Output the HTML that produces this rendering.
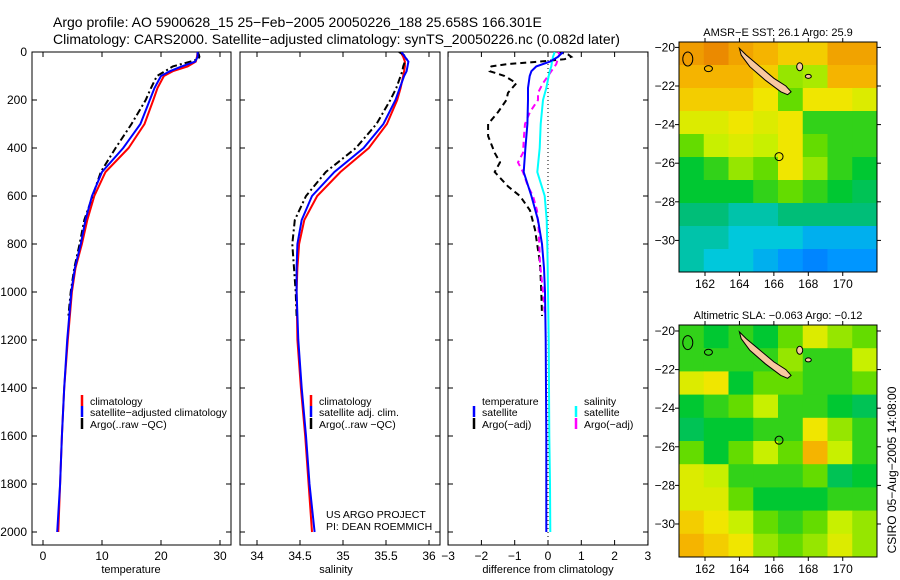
<!DOCTYPE html>
<html><head><meta charset="utf-8"><style>
html,body{margin:0;padding:0;background:#fff;}
svg{display:block;font-family:"Liberation Sans",sans-serif;}
</style></head><body>
<svg id="s" width="900" height="580" viewBox="0 0 900 580" xmlns="http://www.w3.org/2000/svg">
<text x="53" y="27" font-size="14">Argo profile: AO 5900628_15 25−Feb−2005 20050226_188 25.658S 166.301E</text>
<text x="53" y="44" font-size="14">Climatology: CARS2000. Satellite−adjusted climatology: synTS_20050226.nc (0.082d later)</text>
<g id="g"></g>
</svg>
<script>
// ---- data ----
const tDepth=[0,20,40,60,80,100,150,200,300,400,500,600,700,800,900,1000,1200,1400,1600,1800,2000];
const tClim=[26.2,26.1,25.9,24.5,22,20.5,19.4,18.7,17.2,14.5,10.6,8.7,7.5,6.6,5.5,4.9,4.2,3.6,3.2,2.9,2.6];
const tSat=[26.2,26.2,25.8,23.5,21.5,20,18.9,18.1,16.5,13.6,10.0,8.3,7.2,6.4,5.4,4.8,4.1,3.6,3.2,2.9,2.4];
const argoDepth=[0,10,20,30,40,60,80,100,150,200,300,400,500,600,700,800,900,1000,1100];
const tArgo=[26.2,26.4,26.5,26.3,25.0,22.0,20.7,19.3,18.3,17.4,15.0,12.3,9.8,8.4,7.0,6.2,5.3,4.7,4.3];
const sClim=[35.67,35.70,35.72,35.72,35.71,35.70,35.67,35.63,35.51,35.30,34.97,34.70,34.55,34.49,34.47,34.46,34.47,34.51,34.56,34.60,34.64];
const sSat=[35.68,35.72,35.76,35.75,35.74,35.71,35.66,35.61,35.47,35.24,34.90,34.64,34.52,34.47,34.46,34.46,34.48,34.52,34.57,34.61,34.67];
const sArgo=[35.65,35.70,35.73,35.74,35.72,35.70,35.69,35.67,35.62,35.55,35.39,35.15,34.80,34.57,34.44,34.41,34.43,34.45,34.46];
const dtSat=[0.45,0.3,0.06,-0.35,-0.5,-0.55,-0.6,-0.6,-0.62,-0.68,-0.73,-0.5,-0.3,-0.18,-0.12,-0.09,-0.07,-0.06,-0.05,-0.05,-0.05];
const dsSat=[0.2,0.15,0.12,0.1,0.05,0.02,-0.05,-0.15,-0.22,-0.25,-0.32,-0.1,-0.04,-0.02,-0.01,0,0.02,0.03,0.04,0.06,0.07];
const dArgoDepth=[0,10,20,30,40,50,60,80,100,130,170,200,250,300,350,420,460,500,560,600,660,740,880,1000,1100];
const dtArgo=[0.3,0.6,0.7,0.5,-0.25,-1.2,-1.7,-1.75,-1.3,-0.95,-1.2,-1.25,-1.5,-1.8,-1.8,-1.6,-1.44,-1.6,-1.2,-0.84,-0.54,-0.39,-0.24,-0.2,-0.18];
const dsArgo=[0.3,0.35,0.3,0.3,0.27,0.25,0.2,0.1,0.0,-0.15,-0.3,-0.3,-0.54,-0.69,-0.72,-0.75,-0.9,-0.75,-0.6,-0.45,-0.33,-0.28,-0.24,-0.15,-0.09];
const depthTicks=[0,200,400,600,800,1000,1200,1400,1600,1800,2000];
const tTicks=[0,10,20,30];
const sTicks=[34,34.5,35,35.5,36];
const dTicks=[-3,-2,-1,0,1,2,3];
const latTicks=[-20,-22,-24,-26,-28,-30];
const lonTicks=[162,164,166,168,170];
const sstGrid=[
[0.92,0.97,0.9,0.85,0.8,0.8,0.9,0.9],
[0.85,0.85,0.85,0.8,0.6,0.62,0.85,0.85],
[0.8,0.8,0.8,0.75,0.55,0.75,0.75,0.7],
[0.7,0.7,0.75,0.7,0.75,0.5,0.5,0.5],
[0.55,0.65,0.7,0.65,0.75,0.55,0.5,0.5],
[0.45,0.5,0.6,0.55,0.75,0.6,0.5,0.45],
[0.45,0.45,0.45,0.5,0.55,0.5,0.45,0.4],
[0.35,0.35,0.3,0.3,0.35,0.35,0.35,0.35],
[0.3,0.3,0.25,0.25,0.25,0.2,0.2,0.2],
[0.3,0.25,0.25,0.2,0.15,0.1,0.15,0.15]];
const slaGrid=[
[0.5,0.45,0.5,0.45,0.55,0.7,0.6,0.55],
[0.5,0.5,0.5,0.5,0.6,0.5,0.5,0.65],
[0.7,0.75,0.45,0.55,0.55,0.5,0.5,0.55],
[0.45,0.5,0.55,0.65,0.5,0.5,0.45,0.4],
[0.4,0.45,0.45,0.5,0.5,0.75,0.6,0.5],
[0.55,0.45,0.55,0.65,0.55,0.85,0.65,0.5],
[0.7,0.65,0.5,0.5,0.5,0.55,0.4,0.45],
[0.7,0.7,0.55,0.45,0.45,0.45,0.5,0.5],
[0.8,0.75,0.65,0.55,0.5,0.55,0.65,0.6],
[0.85,0.8,0.75,0.6,0.55,0.6,0.7,0.6]];
const islandLon=[164.0,164.4,165.2,166.0,166.7,167.0,166.8,166.4,165.5,164.6,164.1];
const islandLat=[-20.05,-20.4,-21.0,-21.6,-22.0,-22.3,-22.45,-22.3,-21.7,-21.0,-20.4];
const floatLon=166.3, floatLat=-25.658;

// ---- helpers ----
const NS="http://www.w3.org/2000/svg";
const G=document.getElementById('g');
function mk(tag,attrs,parent){const e=document.createElementNS(NS,tag);for(const k in attrs)e.setAttribute(k,attrs[k]);(parent||G).appendChild(e);return e;}
const Y0=52,Y1=545;
const yD=d=>Y0+d*0.24;
const xT=t=>43+5.9*t;
const xS=s=>257+86*(s-34);
const xD=v=>548+33.3*v;

function panel(x0,x1,name,clipId){
  const r=mk('rect',{x:x0,y:Y0,width:x1-x0,height:Y1-Y0,fill:'none',stroke:'#000','stroke-width':1});
  
  
  const cp=mk('clipPath',{id:clipId});mk('rect',{x:x0,y:Y0,width:x1-x0,height:Y1-Y0},cp);
  depthTicks.forEach(d=>{mk('line',{x1:x0,x2:x0+5,y1:yD(d),y2:yD(d),stroke:'#000'});mk('line',{x1:x1-5,x2:x1,y1:yD(d),y2:yD(d),stroke:'#000'});});
}
function xticks(vals,fx,name,label,cx){
  vals.forEach(v=>{const x=fx(v);
    mk('line',{x1:x,x2:x,y1:Y1,y2:Y1-5,stroke:'#000'});mk('line',{x1:x,x2:x,y1:Y0,y2:Y0+5,stroke:'#000'});
    const t=mk('text',{x:x,y:Y1+15,'font-size':12,'text-anchor':'middle'});t.textContent=String(v).replace('-','−');
    
    });
  const t=mk('text',{x:cx,y:Y1+28,'font-size':11,'text-anchor':'middle'});t.textContent=label;
  
  
}
function line(xs,ds,fx,color,w,dash,clip,name){
  const pts=xs.map((v,i)=>fx(v).toFixed(1)+','+yD(ds[i]).toFixed(1)).join(' ');
  const p=mk('polyline',{points:pts,fill:'none',stroke:color,'stroke-width':w,'clip-path':'url(#'+clip+')'});
  if(dash)p.setAttribute('stroke-dasharray',dash);
  
  
}
function legendEntry(x,y,color,label,name){
  if(color)mk('line',{x1:x,x2:x,y1:y-10,y2:y+1,stroke:color,'stroke-width':2.5});
  const t=mk('text',{x:x+8,y:y,'font-size':10.5});t.textContent=label;
  
  
}

// ---- panel 1: temperature ----
panel(32,231,'temperature-panel','c1');
depthTicks.forEach(d=>{const t=mk('text',{x:27,y:yD(d)+4,'font-size':12,'text-anchor':'end'});t.textContent=d;
  
  });
xticks(tTicks,xT,'temperature','temperature',131);
line(tClim,tDepth,xT,'#f00',2,null,'c1','temp-climatology-line');
line(tArgo,argoDepth,xT,'#000',2,'7,3,2,3','c1','temp-argo-line');
line(tSat,tDepth,xT,'#00f',2,null,'c1','temp-satellite-line');
legendEntry(82,405,'#f00','climatology','legend-climatology');
legendEntry(82,416,'#00f','satellite−adjusted climatology','legend-satellite-adjusted');
legendEntry(82,428,'#000','Argo(..raw −QC)','legend-argo-raw');

// ---- panel 2: salinity ----
panel(240,440,'salinity-panel','c2');
xticks(sTicks,xS,'salinity','salinity',336);
line(sClim,tDepth,xS,'#f00',2,null,'c2','sal-climatology-line');
line(sArgo,argoDepth,xS,'#000',2,'7,3,2,3','c2','sal-argo-line');
line(sSat,tDepth,xS,'#00f',2,null,'c2','sal-satellite-line');
legendEntry(311,405,'#f00','climatology','legend-sal-climatology');
legendEntry(311,416,'#00f','satellite adj. clim.','legend-sal-satellite');
legendEntry(311,428,'#000','Argo(..raw −QC)','legend-sal-argo');
[['US ARGO PROJECT',518],['PI: DEAN ROEMMICH',530]].forEach(([s,y])=>{const t=mk('text',{x:326,y:y,'font-size':10.5});t.textContent=s;
  
  });

// ---- panel 3: difference ----
panel(448,648,'difference-panel','c3');
xticks(dTicks,xD,'difference','difference from climatology',548);
mk('line',{x1:xD(0),x2:xD(0),y1:Y0,y2:Y1,stroke:'#000','stroke-dasharray':'1,3'});
line(dtArgo,dArgoDepth,xD,'#000',2,'6,4','c3','diff-temp-argo-line');
line(dsArgo,dArgoDepth,xD,'#f0f',2,'6,4','c3','diff-sal-argo-line');
line(dsSat,tDepth,xD,'#0ff',2,null,'c3','diff-sal-satellite-line');
line(dtSat,tDepth,xD,'#00f',2,null,'c3','diff-temp-satellite-line');
legendEntry(474,405,null,'temperature','legend-temperature-heading');
legendEntry(474,416,'#00f','satellite','legend-temp-satellite');
legendEntry(474,428,'#000','Argo(−adj)','legend-temp-argo');
legendEntry(576,405,null,'salinity','legend-salinity-heading');
legendEntry(576,416,'#0ff','satellite','legend-sal-sat');
legendEntry(576,428,'#f0f','Argo(−adj)','legend-sal-argo-adj');

// ---- maps ----
const stops=[[0,[0,100,255]],[0.15,[0,150,255]],[0.25,[0,200,220]],[0.35,[0,190,120]],[0.45,[0,200,50]],[0.55,[100,220,0]],[0.65,[200,240,0]],[0.75,[240,230,0]],[0.85,[245,180,0]],[1,[232,128,0]]];
function col(v){for(let i=1;i<stops.length;i++){if(v<=stops[i][0]){const a=stops[i-1],b=stops[i],f=(v-a[0])/(b[0]-a[0]);const c=a[1].map((q,k)=>Math.round(q+(b[1][k]-q)*f));return 'rgb('+c+')';}}return 'rgb(232,128,0)';}
const MX0=679,MX1=877,LON0=160.49,LON1=171.99;
const xLon=l=>MX0+(l-LON0)/(LON1-LON0)*(MX1-MX0);
function map(top,bottom,latTop,grid,name,title,clipId){
  const yLat=l=>top+(latTop-l)*19.3;
  const latBot=latTop-(bottom-top)/19.3;
  const cp=mk('clipPath',{id:clipId});mk('rect',{x:MX0,y:top,width:MX1-MX0,height:bottom-top},cp);
  const g=mk('g',{'clip-path':'url(#'+clipId+')'});
  
  
  const nr=grid.length,nc=grid[0].length;
  const dLon=(LON1-LON0)/nc,dLat=(latTop-latBot)/nr;
  grid.forEach((row,r)=>row.forEach((v,c)=>{
    const x0=xLon(LON0+c*dLon),x1=xLon(LON0+(c+1)*dLon),y0=yLat(latTop-r*dLat),y1=yLat(latTop-(r+1)*dLat);
    const e=mk('rect',{x:x0,y:y0,width:x1-x0+0.6,height:y1-y0+0.6,fill:col(v)},g);
    
    
  }));
  const pts=islandLon.map((l,i)=>xLon(l).toFixed(1)+','+yLat(islandLat[i]).toFixed(1)).join(' ');
  const isl=mk('polygon',{points:pts,fill:'#f8c8a0',stroke:'#000','stroke-width':1},g);
  
  
  mk('ellipse',{cx:xLon(161.0),cy:yLat(-20.6),rx:5,ry:7,fill:'none',stroke:'#000'},g);
  mk('ellipse',{cx:xLon(162.2),cy:yLat(-21.1),rx:4,ry:3,fill:'none',stroke:'#000'},g);
  mk('ellipse',{cx:xLon(167.5),cy:yLat(-21.0),rx:3,ry:4,fill:'#f8c8a0',stroke:'#000'},g);
  mk('ellipse',{cx:xLon(168.0),cy:yLat(-21.5),rx:3,ry:2,fill:'#f8c8a0',stroke:'#000'},g);
  const c=mk('circle',{cx:xLon(floatLon),cy:yLat(floatLat),r:4,fill:'none',stroke:'#000'},g);
  
  
  const fr=mk('rect',{x:MX0,y:top,width:MX1-MX0,height:bottom-top,fill:'none',stroke:'#000'});
  
  
  latTicks.forEach(l=>{const y=yLat(l);mk('line',{x1:MX0-4,x2:MX0,y1:y,y2:y,stroke:'#000'});mk('line',{x1:MX1,x2:MX1+4,y1:y,y2:y,stroke:'#000'});
    const t=mk('text',{x:MX0-4,y:y+4,'font-size':12,'text-anchor':'end'});t.textContent='−'+Math.abs(l);
    
    });
  lonTicks.forEach(l=>{const x=xLon(l);mk('line',{x1:x,x2:x,y1:top-4,y2:top,stroke:'#000'});mk('line',{x1:x,x2:x,y1:bottom,y2:bottom+4,stroke:'#000'});
    const t=mk('text',{x:x,y:bottom+16,'font-size':12,'text-anchor':'middle'});t.textContent=l;
    
    });
  const tt=mk('text',{x:(MX0+MX1)/2,y:top-6,'font-size':11,'text-anchor':'middle'});tt.textContent=title;
  
  
}
map(42,272,-19.72,sstGrid,'sst-map','AMSR−E SST: 26.1 Argo: 25.9','cm1');
map(325,557,-19.69,slaGrid,'sla-map','Altimetric SLA: −0.063 Argo: −0.12','cm2');
const rt=mk('text',{x:0,y:0,'font-size':12,'text-anchor':'middle',transform:'translate(896,470) rotate(-90)'});
rt.textContent='CSIRO 05−Aug−2005 14:08:00';


</script>
</body></html>
